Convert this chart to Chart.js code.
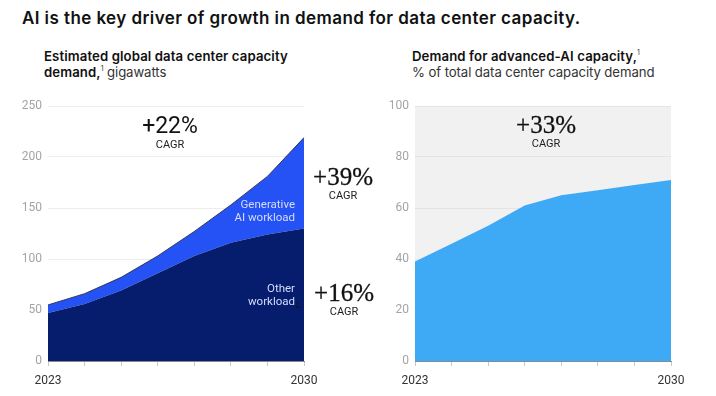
<!DOCTYPE html>
<html>
<head>
<meta charset="utf-8">
<script src="https://cdn.jsdelivr.net/npm/chart.js@4"></script>
<style>
  body { margin: 0; width: 716px; height: 396px; background: #fff; position: relative; overflow: hidden; font-family: Inter, Roboto, "Liberation Sans", sans-serif; color: #111; }
  .abs { position: absolute; white-space: nowrap; }
  #title { left: 22px; top: 8px; font-size: 17px; font-weight: 600; letter-spacing: 0.42px; }
  .sub { font-size: 13.2px; line-height: 16px; color: #333; letter-spacing: -0.1px; }
  .sub b { font-weight: 600; color: #111; letter-spacing: 0.1px; }
  .sub sup { font-size: 7px; line-height: 0; position: relative; top: -1px; }
  .pct { font-family: "Liberation Serif", serif; font-size: 25px; line-height: 24px; text-align: center; transform: translateX(-50%); color: #111; -webkit-text-stroke: 0.3px #111; }
  .pct span { display: block; font-family: Roboto, "Liberation Sans", sans-serif; font-size: 11px; line-height: 13px; color: #222; -webkit-text-stroke: 0; }
  .inlbl { font-family: Roboto, "Liberation Sans", sans-serif; font-size: 11.5px; line-height: 13px; color: #d6dcff; text-align: right; }
  canvas { position: absolute; }
</style>
</head>
<body>
<div id="title" class="abs">AI is the key driver of growth in demand for data center capacity.</div>
<div class="abs sub" style="left:44px; top:48px;"><b>Estimated global data center capacity<br>demand,</b><sup>1</sup> gigawatts</div>
<div class="abs sub" style="left:412px; top:48px;"><b>Demand for advanced-AI capacity,</b><sup>1</sup><br>% of total data center capacity demand</div>

<div style="position:absolute; left:0; top:90px; width:360px; height:306px;"><canvas id="leftChart"></canvas></div>
<div style="position:absolute; left:360px; top:90px; width:356px; height:306px;"><canvas id="rightChart"></canvas></div>

<div class="abs pct" style="left:170px; top:114px; font-family: Roboto, 'Liberation Sans', sans-serif; font-size:23px; -webkit-text-stroke: 0;">+22%<span>CAGR</span></div>
<div class="abs pct" style="left:343px; top:165px;">+39%<span>CAGR</span></div>
<div class="abs pct" style="left:344px; top:281px;">+16%<span>CAGR</span></div>
<div class="abs pct" style="left:546px; top:113px;">+33%<span>CAGR</span></div>
<div class="abs inlbl" style="right:421px; top:198px;">Generative<br>AI workload</div>
<div class="abs inlbl" style="right:421px; top:282px;">Other<br>workload</div>
<div class="abs" style="left:296px; top:300px; font-size:8px; color:#111;">L</div>

<script>
const years = ["2023", "2024", "2025", "2026", "2027", "2028", "2029", "2030"];
const otherWorkload = [47, 56, 69, 86, 103, 116, 124, 130];
const genAiWorkload = [8, 10, 13, 17, 24, 37, 57, 89];
const advancedAiShare = [39, 46, 53, 61, 65, 67, 69, 71];

function xScale() {
  return {
    grid: { drawOnChartArea: false, drawTicks: true, tickLength: 5, color: "#c8c8c8" },
    border: { display: true, color: "#8a8a8a", width: 1 },
    ticks: {
      autoSkip: false, maxRotation: 0, padding: 8, color: "#333",
      font: { family: "Roboto", size: 12 },
      callback: (v, i) => (i === 0 || i === years.length - 1 ? years[i] : "")
    },
    afterFit: (s) => { s.height = 35; }
  };
}

function yScale(max, step, width) {
  return {
    min: 0, max: max, stacked: true,
    grid: { color: "#ececec", drawTicks: false },
    border: { display: false },
    ticks: { stepSize: step, padding: 6, color: "#a4a4a4", font: { family: "Roboto", size: 12 } },
    afterFit: (s) => { s.width = width; }
  };
}

new Chart(document.getElementById("leftChart"), {
  type: "line",
  data: {
    labels: years,
    datasets: [
      { label: "Other workload", data: otherWorkload, backgroundColor: "#061d6e", borderWidth: 0, fill: "origin", pointRadius: 0, tension: 0 },
      { label: "Generative AI workload", data: genAiWorkload, backgroundColor: "#2552f5", borderColor: "rgba(40,40,60,0.85)", borderWidth: 1, fill: "-1", pointRadius: 0, tension: 0 }
    ]
  },
  options: {
    responsive: true, maintainAspectRatio: false, animation: false,
    layout: { padding: { top: 16, right: 56, left: 0, bottom: 0 } },
    plugins: { legend: { display: false }, tooltip: { enabled: false } },
    scales: { x: xScale(), y: yScale(250, 50, 48) }
  }
});

const plotBg = {
  id: "plotBg",
  beforeDraw(chart) {
    const a = chart.chartArea, ctx = chart.ctx;
    ctx.save();
    ctx.fillStyle = "#f1f1f1";
    ctx.fillRect(a.left, a.top, a.right - a.left, a.bottom - a.top);
    ctx.restore();
  }
};

const rightY = yScale(100, 20, 55);
rightY.z = 1;
rightY.grid.color = "rgba(0,0,0,0.05)";

new Chart(document.getElementById("rightChart"), {
  type: "line",
  data: {
    labels: years,
    datasets: [
      { label: "Advanced-AI share", data: advancedAiShare, backgroundColor: "#3ea9f5", borderWidth: 0, fill: "origin", pointRadius: 0, tension: 0 }
    ]
  },
  options: {
    responsive: true, maintainAspectRatio: false, animation: false,
    layout: { padding: { top: 16, right: 45, left: 0, bottom: 0 } },
    plugins: { legend: { display: false }, tooltip: { enabled: false } },
    scales: { x: xScale(), y: rightY }
  },
  plugins: [plotBg]
});
</script>
</body>
</html>
